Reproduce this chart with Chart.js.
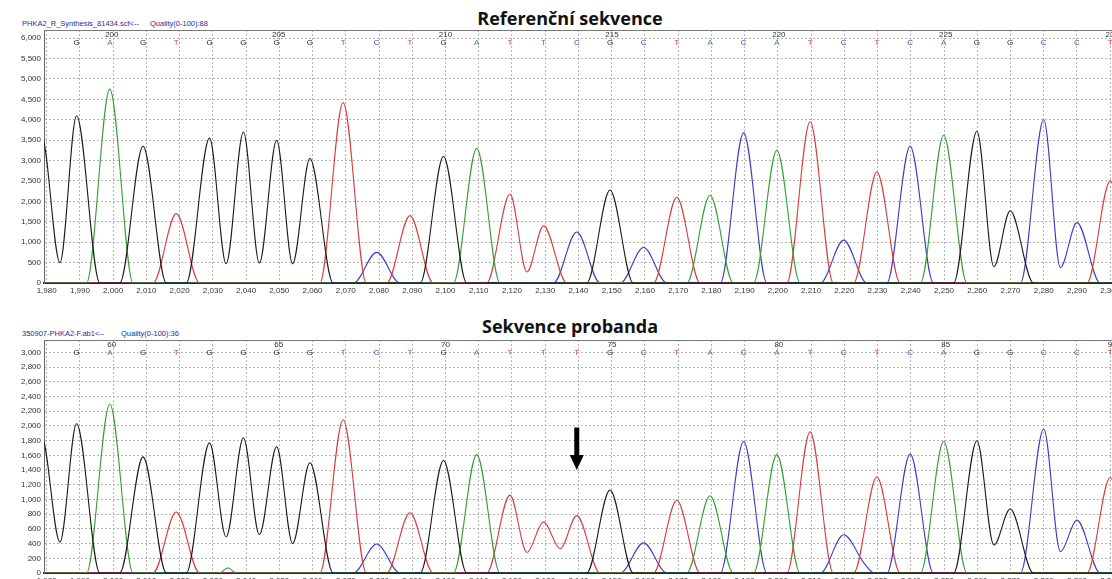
<!DOCTYPE html>
<html>
<head>
<meta charset="utf-8">
<script src="https://cdn.jsdelivr.net/npm/chart.js@4/dist/chart.umd.min.js"></script>
<style>
  html, body { margin: 0; padding: 0; background: #fff; overflow: hidden; width: 1112px; height: 579px; }
  canvas { position: absolute; left: 0; }
  .title { position: absolute; left: 0; width: 1140px; text-align: center; font: 700 18px 'Open Sans', sans-serif; line-height: 18px; color: #111; }
  .info { position: absolute; font: 7.5px 'Liberation Sans', Arial, sans-serif; line-height: 7.5px; color: #2a2aa0; white-space: nowrap; }
</style>
</head>
<body>
<div class="title" style="top:9px">Referenční sekvence</div>
<div class="info" style="left:22px;top:20px">PHKA2_R_Synthesis_81434.scf&lt;--</div>
<div class="info" style="left:150px;top:20px">Quality(0-100):88</div>
<div class="title" style="top:317px">Sekvence probanda</div>
<div class="info" style="left:22px;top:330px">350907-PHKA2-F.ab1&lt;--</div>
<div class="info" style="left:121px;top:330px">Quality(0-100):36</div>
<canvas id="ref" width="1180" height="300" style="top:0"></canvas>
<canvas id="prob" width="1180" height="290" style="top:310px"></canvas>
<script>
// scan position of every called base (same window in both traces)
const peakPos = [1989, 1999, 2009, 2019, 2029, 2039.2, 2049.2, 2059.2, 2069.2, 2079.3,
  2089.3, 2099.4, 2109.4, 2119.4, 2129.5, 2139.5, 2149.5, 2159.6, 2169.6, 2179.6,
  2189.7, 2199.7, 2209.7, 2219.8, 2229.8, 2239.8, 2249.9, 2259.9, 2269.9, 2280, 2290, 2300]

const refBases = ('GAGTGGGGTC' + 'TGATTCGCTA' + 'CATCTCAGGCCT').split('')
const probBases = ('GAGTGGGGTC' + 'TGATTTGCTA' + 'CATCTCAGGCCT').split('')

const refHeights = [4100, 4750, 3350, 1700, 3550, 3700, 3500, 3050, 4420, 750,
  1650, 3100, 3300, 2180, 1400, 1250, 2280, 870, 2100, 2150,
  3680, 3250, 3950, 1050, 2720, 3350, 3620, 3720, 1770, 4000, 1480, 2500]
const probHeights = [2030, 2300, 1580, 830, 1770, 1840, 1720, 1500, 2085, 395,
  820, 1530, 1610, 1060, 695, 780, 1130, 410, 990, 1050,
  1790, 1610, 1920, 520, 1310, 1620, 1790, 1800, 870, 1960, 720, 1300]

// valleys between neighbouring peaks of the same dye: [pos, value, base]
const refTroughs = [[1984, 500, 'G'], [2034, 470, 'G'], [2044, 490, 'G'], [2054, 470, 'G'],
  [2124.5, 270, 'T'], [2265, 400, 'G'], [2285, 380, 'C']]
const probTroughs = [[1984, 420, 'G'], [2034, 490, 'G'], [2044, 520, 'G'], [2054, 400, 'G'],
  [2124.5, 280, 'T'], [2134.5, 330, 'T'], [2265, 380, 'G'], [2285, 290, 'C']]

// uncalled peaks: [pos, value, base, half width]
const refExtra = [[1978.5, 3600, 'G', 7]]
const probExtra = [[1978.5, 1850, 'G', 7], [2034.5, 70, 'A', 2.5], [2226, 130, 'C', 3]]

const refFirstBase = 199
const probFirstBase = 59

const xTicks = [1980, 1990, 2000, 2010, 2020, 2030, 2040, 2050, 2060, 2070, 2080, 2090,
  2100, 2110, 2120, 2130, 2140, 2150, 2160, 2170, 2180, 2190, 2200, 2210, 2220, 2230,
  2240, 2250, 2260, 2270, 2280, 2290, 2300, 2310, 2320]
const refYTicks = [0, 500, 1000, 1500, 2000, 2500, 3000, 3500, 4000, 4500, 5000, 5500, 6000]
const probYTicks = [0, 200, 400, 600, 800, 1000, 1200, 1400, 1600, 1800, 2000, 2200, 2400, 2600, 2800, 3000]

const arrowPos = 2139.5
const arrowTop = 1980
const arrowTip = 1400

const dyeColors = { G: '#1c1c1c', A: '#35a035', T: '#d83c3c', C: '#3c3cc8' }
const halfWidth = 7

function buildTrace(base, bases, heights, troughs, extra) {
  const pts = []
  peakPos.forEach((p, i) => { if (bases[i] === base) pts.push({ x: p, y: heights[i], peak: true, w: halfWidth }) })
  extra.forEach((e) => { if (e[2] === base) pts.push({ x: e[0], y: e[1], peak: true, w: e[3] }) })
  troughs.forEach((t) => { if (t[2] === base) pts.push({ x: t[0], y: t[1], peak: false }) })
  pts.sort((a, b) => a.x - b.x)

  const out = [{ x: 1960, y: 0 }]
  pts.forEach((p, k) => {
    const prev = pts[k - 1]
    const next = pts[k + 1]
    if (p.peak && (!prev || (prev.peak && p.x - prev.x > 10.5))) out.push({ x: p.x - p.w, y: 0 })
    out.push({ x: p.x, y: p.y })
    if (p.peak && (!next || (next.peak && next.x - p.x > 10.5))) out.push({ x: p.x + p.w, y: 0 })
  })
  out.push({ x: 2340, y: 0 })
  return out
}

const smallFont = { family: 'Liberation Sans', size: 8 }

function makeChart(id, bases, heights, troughs, extra, firstBase, yMax, yTicks, xHeight, withArrow) {
  const seqPlugin = {
    id: 'seq' + id,
    afterDatasetsDraw(chart) {
      const { ctx, chartArea, scales } = chart
      ctx.save()
      // frame top
      ctx.strokeStyle = '#7a7a7a'
      ctx.lineWidth = 1
      ctx.beginPath()
      ctx.moveTo(chartArea.left, chartArea.top + 0.5)
      ctx.lineTo(chartArea.right, chartArea.top + 0.5)
      ctx.stroke()

      ctx.font = '8px "Liberation Sans", Arial, sans-serif'
      ctx.textAlign = 'center'
      ctx.textBaseline = 'middle'
      peakPos.forEach((p, i) => {
        const x = scales.x.getPixelForValue(p)
        ctx.fillStyle = dyeColors[bases[i]]
        ctx.fillText(bases[i], x, chartArea.top + 13)
        const n = firstBase + i
        if (n % 5 === 0) {
          ctx.fillStyle = '#333'
          ctx.fillText(String(n), x + 2, chartArea.top + 5)
        }
      })

      if (withArrow) {
        const x = scales.x.getPixelForValue(arrowPos)
        const y0 = scales.y.getPixelForValue(arrowTop)
        const y1 = scales.y.getPixelForValue(arrowTip)
        ctx.fillStyle = '#000'
        ctx.beginPath()
        ctx.moveTo(x - 2.5, y0)
        ctx.lineTo(x + 2.5, y0)
        ctx.lineTo(x + 2.5, y1 - 15)
        ctx.lineTo(x + 7, y1 - 15)
        ctx.lineTo(x, y1)
        ctx.lineTo(x - 7, y1 - 15)
        ctx.lineTo(x - 2.5, y1 - 15)
        ctx.closePath()
        ctx.fill()
      }
      ctx.restore()
    }
  }

  const datasets = ['G', 'A', 'T', 'C'].map((b) => ({
    data: buildTrace(b, bases, heights, troughs, extra),
    borderColor: dyeColors[b],
    borderWidth: 1.1,
    pointRadius: 0,
    fill: false,
    cubicInterpolationMode: 'monotone'
  }))

  return new Chart(document.getElementById(id), {
    type: 'line',
    data: { datasets },
    plugins: [seqPlugin],
    options: {
      responsive: false,
      animation: false,
      locale: 'en-US',
      layout: { padding: { top: 30, left: 0, right: 0, bottom: 0 } },
      plugins: { legend: { display: false }, tooltip: { enabled: false } },
      scales: {
        x: {
          type: 'linear',
          min: 1979.2,
          max: 2321,
          afterBuildTicks: (s) => { s.ticks = xTicks.map((v) => ({ value: v })) },
          afterFit: (s) => { s.height = xHeight; s.paddingLeft = 0; s.paddingRight = 0 },
          ticks: { autoSkip: false, maxRotation: 0, font: smallFont, color: '#333', padding: 3 },
          grid: { color: '#b4b4b4', drawTicks: false },
          border: { color: '#2a2a2a', width: 2, dash: [2, 2] }
        },
        y: {
          min: 0,
          max: yMax,
          afterBuildTicks: (s) => { s.ticks = yTicks.map((v) => ({ value: v })) },
          afterFit: (s) => { s.width = 44; s.paddingTop = 0; s.paddingBottom = 0 },
          ticks: { autoSkip: false, font: smallFont, color: '#333', padding: 3 },
          grid: { color: '#b4b4b4', drawTicks: false },
          border: { color: '#666', width: 1, dash: [2, 2] }
        }
      }
    }
  })
}

makeChart('ref', refBases, refHeights, refTroughs, refExtra, refFirstBase, 6200, refYTicks, 17, false)
makeChart('prob', probBases, probHeights, probTroughs, probExtra, probFirstBase, 3170, probYTicks, 27, true)
</script>
</body>
</html>
